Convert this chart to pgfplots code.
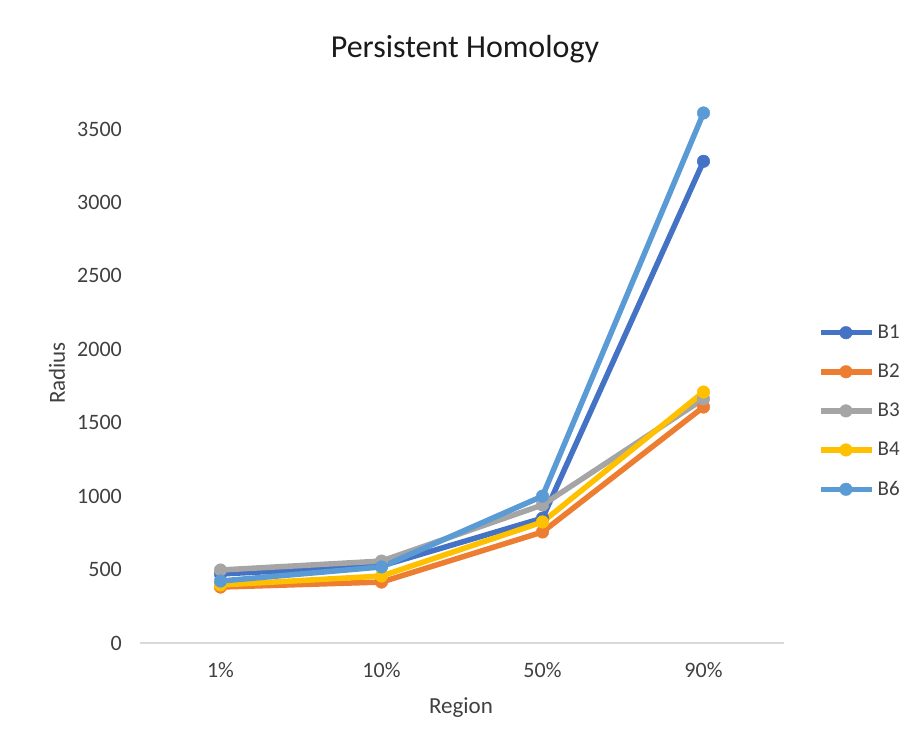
\documentclass[border=0pt]{standalone}
\usepackage{fontspec}
\setmainfont{Carlito}
\usepackage{pgfplots}
\pgfplotsset{compat=1.18}
\definecolor{cBa}{HTML}{4472C4}
\definecolor{cBb}{HTML}{ED7D31}
\definecolor{cBc}{HTML}{A5A5A5}
\definecolor{cBd}{HTML}{FFC000}
\definecolor{cBf}{HTML}{5B9BD5}
\definecolor{tickc}{HTML}{404040}
\definecolor{titlec}{HTML}{1A1A1A}
\definecolor{axc}{HTML}{D9D9D9}
\begin{document}
\begin{tikzpicture}[x=1pt,y=1pt]
\useasboundingbox (-140,-97) rectangle (764,643);
\begin{axis}[
  at={(0,0)}, anchor=south west,
  scale only axis, width=644pt, height=514pt,
  xmin=-0.5, xmax=3.5, ymin=0, ymax=3500,
  clip=false,
  xtick={0,1,2,3}, xticklabels={1\%,10\%,50\%,90\%},
  ytick={0,500,...,3500},
  major tick length=0pt,
  axis lines*=left,
  x axis line style={draw=axc, line width=1.5pt},
  y axis line style={draw=none},
  /pgf/number format/assume math mode=true,
  /pgf/number format/1000 sep={},
  yticklabel style={font=\fontsize{22}{26}\selectfont, text=tickc, inner sep=0pt, anchor=east, xshift=-18pt},
  xticklabel style={font=\fontsize{22}{26}\selectfont, text=tickc, inner sep=0pt, anchor=base, yshift=-34pt},
  legend style={draw=none, fill=none, at={(axis description cs:1.0528,0.6187)}, anchor=north west,
    inner sep=0pt, row sep=24pt, font=\fontsize{21}{25}\selectfont,
    nodes={inner sep=0pt, text=tickc},
    /tikz/every odd column/.append style={column sep=3pt}},
  legend cell align=left,
  legend image code/.code={\draw[mark repeat=2,mark phase=2] plot coordinates {(0pt,0pt)(25pt,0pt)(51pt,0pt)};},
  every axis plot/.append style={line width=5.5pt, mark=*, mark size=6.3pt, mark options={solid, line width=0.4pt}},
]
\addplot[color=cBa] coordinates {(0,470)(1,525)(2,850)(3,3280)};
\addlegendentry{B1}
\addplot[color=cBb] coordinates {(0,381)(1,415)(2,756)(3,1607)};
\addlegendentry{B2}
\addplot[color=cBc] coordinates {(0,497)(1,558)(2,940)(3,1662)};
\addlegendentry{B3}
\addplot[color=cBd] coordinates {(0,395)(1,456)(2,824)(3,1709)};
\addlegendentry{B4}
\addplot[color=cBf] coordinates {(0,422)(1,518)(2,1000)(3,3609)};
\addlegendentry{B6}
\end{axis}
\node[anchor=base, font=\fontsize{32}{38}\selectfont, text=titlec, inner sep=0pt] at (325,585) {Persistent Homology};
\node[anchor=base, font=\fontsize{23}{27}\selectfont, text=tickc, inner sep=0pt] at (321,-70) {Region};
\node[anchor=base, rotate=90, font=\fontsize{23}{27}\selectfont, text=tickc, inner sep=0pt] at (-75,270) {Radius};
\end{tikzpicture}
\end{document}
